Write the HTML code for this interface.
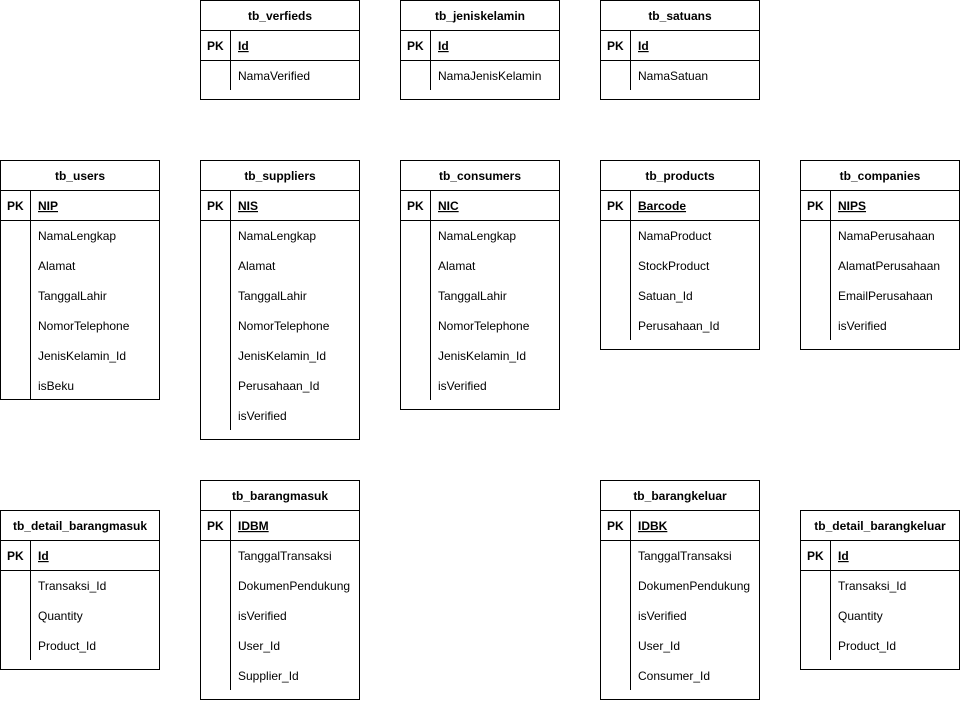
<!DOCTYPE html>
<html><head><meta charset="utf-8"><style>
html,body{margin:0;padding:0;background:#fff;}
svg{display:block;}
text{font-family:"Liberation Sans",Helvetica,Arial,sans-serif;font-size:12px;fill:#000;}
.h{font-weight:bold;text-anchor:middle;}
.pk{font-weight:bold;}
rect{fill:#fff;stroke:#000;stroke-width:1;}
line{stroke:#000;stroke-width:1;}
</style></head><body>
<svg width="961" height="701" viewBox="0 0 961 701" xmlns="http://www.w3.org/2000/svg">

<g transform="translate(200,0)"><rect x="0.5" y="0.5" width="159" height="99"/><line x1="0" y1="30.5" x2="160" y2="30.5"/><line x1="0" y1="60.5" x2="160" y2="60.5"/><line x1="30.5" y1="30" x2="30.5" y2="90"/>
<text class="h" x="80" y="20">tb_verfieds</text><text class="pk" x="7" y="50">PK</text><text class="pk" x="38" y="50" text-decoration="underline">Id</text>
<text x="38" y="80">NamaVerified</text></g>

<g transform="translate(400,0)"><rect x="0.5" y="0.5" width="159" height="99"/><line x1="0" y1="30.5" x2="160" y2="30.5"/><line x1="0" y1="60.5" x2="160" y2="60.5"/><line x1="30.5" y1="30" x2="30.5" y2="90"/>
<text class="h" x="80" y="20">tb_jeniskelamin</text><text class="pk" x="7" y="50">PK</text><text class="pk" x="38" y="50" text-decoration="underline">Id</text>
<text x="38" y="80">NamaJenisKelamin</text></g>

<g transform="translate(600,0)"><rect x="0.5" y="0.5" width="159" height="99"/><line x1="0" y1="30.5" x2="160" y2="30.5"/><line x1="0" y1="60.5" x2="160" y2="60.5"/><line x1="30.5" y1="30" x2="30.5" y2="90"/>
<text class="h" x="80" y="20">tb_satuans</text><text class="pk" x="7" y="50">PK</text><text class="pk" x="38" y="50" text-decoration="underline">Id</text>
<text x="38" y="80">NamaSatuan</text></g>

<g transform="translate(0,160)"><rect x="0.5" y="0.5" width="159" height="239"/><line x1="0" y1="30.5" x2="160" y2="30.5"/><line x1="0" y1="60.5" x2="160" y2="60.5"/><line x1="30.5" y1="30" x2="30.5" y2="240"/>
<text class="h" x="80" y="20">tb_users</text><text class="pk" x="7" y="50">PK</text><text class="pk" x="38" y="50" text-decoration="underline">NIP</text>
<text x="38" y="80">NamaLengkap</text><text x="38" y="110">Alamat</text><text x="38" y="140">TanggalLahir</text><text x="38" y="170">NomorTelephone</text><text x="38" y="200">JenisKelamin_Id</text><text x="38" y="230">isBeku</text></g>

<g transform="translate(200,160)"><rect x="0.5" y="0.5" width="159" height="279"/><line x1="0" y1="30.5" x2="160" y2="30.5"/><line x1="0" y1="60.5" x2="160" y2="60.5"/><line x1="30.5" y1="30" x2="30.5" y2="270"/>
<text class="h" x="80" y="20">tb_suppliers</text><text class="pk" x="7" y="50">PK</text><text class="pk" x="38" y="50" text-decoration="underline">NIS</text>
<text x="38" y="80">NamaLengkap</text><text x="38" y="110">Alamat</text><text x="38" y="140">TanggalLahir</text><text x="38" y="170">NomorTelephone</text><text x="38" y="200">JenisKelamin_Id</text><text x="38" y="230">Perusahaan_Id</text><text x="38" y="260">isVerified</text></g>

<g transform="translate(400,160)"><rect x="0.5" y="0.5" width="159" height="249"/><line x1="0" y1="30.5" x2="160" y2="30.5"/><line x1="0" y1="60.5" x2="160" y2="60.5"/><line x1="30.5" y1="30" x2="30.5" y2="240"/>
<text class="h" x="80" y="20">tb_consumers</text><text class="pk" x="7" y="50">PK</text><text class="pk" x="38" y="50" text-decoration="underline">NIC</text>
<text x="38" y="80">NamaLengkap</text><text x="38" y="110">Alamat</text><text x="38" y="140">TanggalLahir</text><text x="38" y="170">NomorTelephone</text><text x="38" y="200">JenisKelamin_Id</text><text x="38" y="230">isVerified</text></g>

<g transform="translate(600,160)"><rect x="0.5" y="0.5" width="159" height="189"/><line x1="0" y1="30.5" x2="160" y2="30.5"/><line x1="0" y1="60.5" x2="160" y2="60.5"/><line x1="30.5" y1="30" x2="30.5" y2="180"/>
<text class="h" x="80" y="20">tb_products</text><text class="pk" x="7" y="50">PK</text><text class="pk" x="38" y="50" text-decoration="underline">Barcode</text>
<text x="38" y="80">NamaProduct</text><text x="38" y="110">StockProduct</text><text x="38" y="140">Satuan_Id</text><text x="38" y="170">Perusahaan_Id</text></g>

<g transform="translate(800,160)"><rect x="0.5" y="0.5" width="159" height="189"/><line x1="0" y1="30.5" x2="160" y2="30.5"/><line x1="0" y1="60.5" x2="160" y2="60.5"/><line x1="30.5" y1="30" x2="30.5" y2="180"/>
<text class="h" x="80" y="20">tb_companies</text><text class="pk" x="7" y="50">PK</text><text class="pk" x="38" y="50" text-decoration="underline">NIPS</text>
<text x="38" y="80">NamaPerusahaan</text><text x="38" y="110">AlamatPerusahaan</text><text x="38" y="140">EmailPerusahaan</text><text x="38" y="170">isVerified</text></g>

<g transform="translate(0,510)"><rect x="0.5" y="0.5" width="159" height="159"/><line x1="0" y1="30.5" x2="160" y2="30.5"/><line x1="0" y1="60.5" x2="160" y2="60.5"/><line x1="30.5" y1="30" x2="30.5" y2="150"/>
<text class="h" x="80" y="20">tb_detail_barangmasuk</text><text class="pk" x="7" y="50">PK</text><text class="pk" x="38" y="50" text-decoration="underline">Id</text>
<text x="38" y="80">Transaksi_Id</text><text x="38" y="110">Quantity</text><text x="38" y="140">Product_Id</text></g>

<g transform="translate(200,480)"><rect x="0.5" y="0.5" width="159" height="219"/><line x1="0" y1="30.5" x2="160" y2="30.5"/><line x1="0" y1="60.5" x2="160" y2="60.5"/><line x1="30.5" y1="30" x2="30.5" y2="210"/>
<text class="h" x="80" y="20">tb_barangmasuk</text><text class="pk" x="7" y="50">PK</text><text class="pk" x="38" y="50" text-decoration="underline">IDBM</text>
<text x="38" y="80">TanggalTransaksi</text><text x="38" y="110">DokumenPendukung</text><text x="38" y="140">isVerified</text><text x="38" y="170">User_Id</text><text x="38" y="200">Supplier_Id</text></g>

<g transform="translate(600,480)"><rect x="0.5" y="0.5" width="159" height="219"/><line x1="0" y1="30.5" x2="160" y2="30.5"/><line x1="0" y1="60.5" x2="160" y2="60.5"/><line x1="30.5" y1="30" x2="30.5" y2="210"/>
<text class="h" x="80" y="20">tb_barangkeluar</text><text class="pk" x="7" y="50">PK</text><text class="pk" x="38" y="50" text-decoration="underline">IDBK</text>
<text x="38" y="80">TanggalTransaksi</text><text x="38" y="110">DokumenPendukung</text><text x="38" y="140">isVerified</text><text x="38" y="170">User_Id</text><text x="38" y="200">Consumer_Id</text></g>

<g transform="translate(800,510)"><rect x="0.5" y="0.5" width="159" height="159"/><line x1="0" y1="30.5" x2="160" y2="30.5"/><line x1="0" y1="60.5" x2="160" y2="60.5"/><line x1="30.5" y1="30" x2="30.5" y2="150"/>
<text class="h" x="80" y="20">tb_detail_barangkeluar</text><text class="pk" x="7" y="50">PK</text><text class="pk" x="38" y="50" text-decoration="underline">Id</text>
<text x="38" y="80">Transaksi_Id</text><text x="38" y="110">Quantity</text><text x="38" y="140">Product_Id</text></g>

</svg>
</body></html>
